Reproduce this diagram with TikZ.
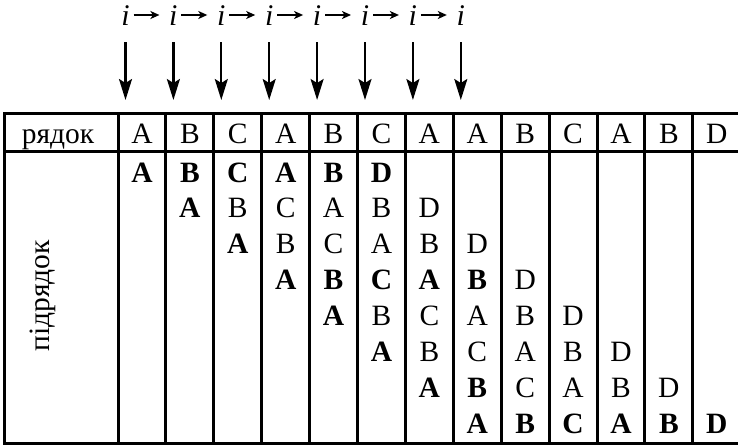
\documentclass[tikz,border=0pt]{standalone}
\usepackage{fontspec}
\setmainfont{Liberation Serif}
\usetikzlibrary{arrows.meta}
\begin{document}
\begin{tikzpicture}[x=1pt,y=-1pt,
  grid/.style={line width=3pt},
  txt/.style={inner sep=0pt,anchor=base,font=\fontsize{29.5}{32}\selectfont},
  reg/.style={txt},
  bld/.style={txt,font=\fontsize{29.5}{32}\selectfont\bfseries},
  itr/.style={inner sep=0pt,anchor=base,font=\fontsize{30}{32}\selectfont\itshape},
  harrow/.style={line width=1.6pt,-{Stealth[length=9pt,width=8pt,inset=2.5pt]}},
  varrow/.style={line width=2.2pt,-{Stealth[length=21pt,width=13pt,inset=4pt]}}]
\useasboundingbox (0,0) rectangle (738,445);

% table frame and rules
\draw[grid] (738,113) -- (4,113) -- (4,443) -- (738,443);
\draw[grid] (4,151) -- (738,151);
\foreach \k in {0,...,12}
  \draw[grid] ({118+\k*47.9},113) -- ({118+\k*47.9},443);
\coordinate (top) at (0,113);

% header row
\node[reg] (hdr) at (58,143) {рядок};
\foreach \c/\t in {1/A,2/B,3/C,4/A,5/B,6/C,7/A,8/A,9/B,10/C,11/A,12/B,13/D}
  \node[reg] (h-\c) at ({118+(\c-0.5)*47.9},143) {\t};

% side label
\node[txt,rotate=90] (sub) at (49,296) {підрядок};

% bold cells
\foreach \c/\r/\t in {1/1/A, 2/1/B, 2/2/A, 3/1/C, 3/3/A, 4/1/A, 4/4/A,
    5/1/B, 5/4/B, 5/5/A, 6/1/D, 6/4/C, 6/6/A, 7/4/A, 7/7/A,
    8/4/B, 8/7/B, 8/8/A, 9/8/B, 10/8/C, 11/8/A, 12/8/B, 13/8/D}
  \node[bld] (b-\c-\r) at ({118+(\c-0.5)*47.9},{182+(\r-1)*35.86}) {\t};

% regular cells
\foreach \c/\r/\t in {3/2/B, 4/2/C, 4/3/B, 5/2/A, 5/3/C,
    6/2/B, 6/3/A, 6/5/B, 7/2/D, 7/3/B, 7/5/C, 7/6/B,
    8/3/D, 8/5/A, 8/6/C, 9/4/D, 9/5/B, 9/6/A, 9/7/C,
    10/5/D, 10/6/B, 10/7/A, 11/6/D, 11/7/B, 12/7/D}
  \node[reg] (r-\c-\r) at ({118+(\c-0.5)*47.9},{182+(\r-1)*35.86}) {\t};

% index chain on top
\foreach \k in {1,...,8}
  \node[itr] (i\k) at ({125.5+(\k-1)*47.9},25) {i};
\foreach \a/\b in {1/2,2/3,3/4,4/5,5/6,6/7,7/8}
  \draw[harrow] ([xshift=8pt,yshift=10pt]i\a.base) -- ([xshift=-14pt,yshift=10pt]i\b.base);
\foreach \k in {1,...,8}
  \draw[varrow,shorten <=17pt,shorten >=13pt] (i\k.south) -- (i\k.south |- top);
\end{tikzpicture}
\end{document}
